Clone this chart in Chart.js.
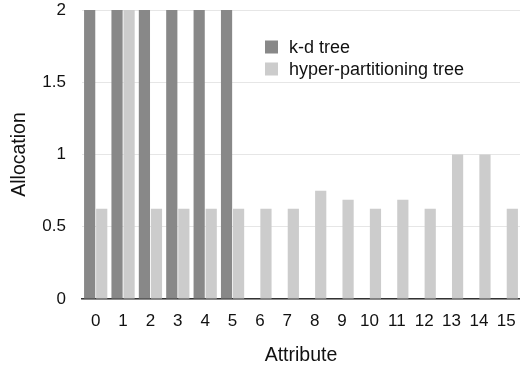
<!DOCTYPE html>
<html>
<head>
<meta charset="utf-8">
<script src="https://cdn.jsdelivr.net/npm/chart.js@4.4.0/dist/chart.umd.min.js"></script>
<style>
  html, body { margin: 0; padding: 0; background: #fff; }
  #wrap { width: 520px; height: 368px; }
</style>
</head>
<body>
<div id="wrap"><canvas id="allocChart" width="520" height="368"></canvas></div>
<script>
// Chart data
const attributes = ['0', '1', '2', '3', '4', '5', '6', '7', '8', '9', '10', '11', '12', '13', '14', '15'];
const kdTree = [2, 2, 2, 2, 2, 2, 0, 0, 0, 0, 0, 0, 0, 0, 0, 0];
const hyperTree = [0.625, 2, 0.625, 0.625, 0.625, 0.625, 0.625, 0.625, 0.75, 0.6875, 0.625, 0.6875, 0.625, 1, 1, 0.625];
const yTicks = [0, 0.5, 1, 1.5, 2];

const FONT = "'Liberation Sans', Arial, Helvetica, sans-serif";

// Legend drawn inside the plot area, like the original
const insideLegend = {
    id: 'insideLegend',
    afterDraw(chart) {
        const ctx = chart.ctx;
        const area = chart.chartArea;
        const x = area.left + 183;
        let y = area.top + 37;
        ctx.save();
        ctx.font = '18px ' + FONT;
        ctx.textBaseline = 'middle';
        chart.data.datasets.forEach(ds => {
            ctx.fillStyle = ds.backgroundColor;
            ctx.fillRect(x, y - 6.5, 13, 13);
            ctx.fillStyle = '#111';
            ctx.fillText(ds.label, x + 24, y + 1);
            y += 22;
        });
        ctx.restore();
    }
};

function createChart() {
    const ctx = document.getElementById('allocChart').getContext('2d');
    new Chart(ctx, {
        type: 'bar',
        data: {
            labels: attributes,
            datasets: [
                {
                    label: 'k-d tree',
                    data: kdTree,
                    backgroundColor: '#888888',
                    categoryPercentage: 0.88,
                    barPercentage: 0.93
                },
                {
                    label: 'hyper-partitioning tree',
                    data: hyperTree,
                    backgroundColor: '#cccccc',
                    categoryPercentage: 0.88,
                    barPercentage: 0.93
                }
            ]
        },
        options: {
            responsive: false,
            animation: false,
            layout: { padding: { top: 0, right: -2, left: 4, bottom: 0 } },
            scales: {
                x: {
                    grid: { display: false, drawTicks: false },
                    border: { color: '#333', width: 1.5 },
                    ticks: { color: '#111', font: { family: FONT, size: 17 }, padding: 12, maxRotation: 0 },
                    title: { display: true, text: 'Attribute', color: '#111', font: { family: FONT, size: 19.5 }, padding: { top: 4, bottom: 1 } },
                    afterFit: axis => {
                        axis.height = 69;
                        axis.paddingLeft = 0;
                        axis.paddingRight = 0;
                    }
                },
                y: {
                    min: 0,
                    max: 2,
                    afterBuildTicks: axis => { axis.ticks = yTicks.map(v => ({ value: v })); },
                    grid: { color: '#e6e6e6', drawTicks: false },
                    border: { display: false },
                    ticks: {
                        color: '#111',
                        font: { family: FONT, size: 17 },
                        padding: 16,
                        callback: value => String(value)
                    },
                    title: { display: true, text: 'Allocation', color: '#111', font: { family: FONT, size: 19.5 }, padding: { top: 4, bottom: 4 } },
                    afterFit: axis => {
                        axis.width = 78;
                        axis.paddingTop = 10;
                        axis.paddingBottom = 0;
                    }
                }
            },
            plugins: {
                legend: { display: false },
                tooltip: { enabled: false }
            }
        },
        plugins: [insideLegend]
    });
}

window.onload = function() {
    createChart();
};
</script>
</body>
</html>
